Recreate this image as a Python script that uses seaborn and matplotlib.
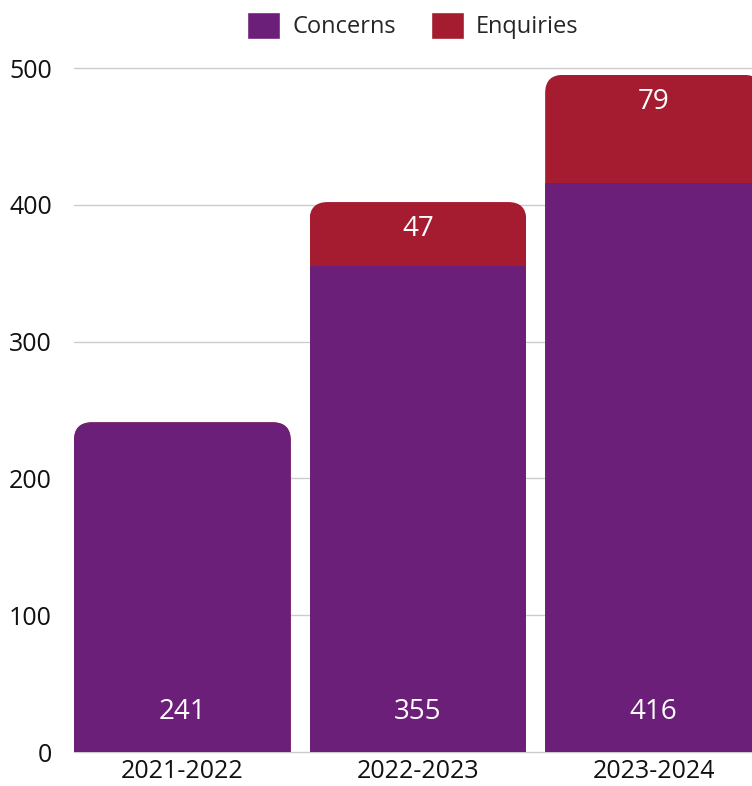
import matplotlib
matplotlib.use("Agg")
import matplotlib.pyplot as plt
import seaborn as sns
import pandas as pd
from matplotlib.patches import FancyBboxPatch, Patch

years = ["2021-2022", "2022-2023", "2023-2024"]
concerns = [241, 355, 416]
enquiries = [0, 47, 79]

purple = "#6c1f78"
red = "#a51b30"

df = pd.DataFrame({"year": years, "concerns": concerns, "enquiries": enquiries})
df["total"] = df["concerns"] + df["enquiries"]

sns.set_theme(style="white")
plt.rcParams["font.family"] = ["Open Sans", "DejaVu Sans"]

fig = plt.figure(figsize=(7.52, 7.86), dpi=100)
ax = fig.add_axes([74 / 752, 1 - 752 / 786, 1 - 74 / 752, (752 - 68) / 786])

width = 0.92
sns.barplot(data=df, x="year", y="total", color=red, width=width, ax=ax,
            saturation=1, linewidth=0, edgecolor="none", zorder=3)
sns.barplot(data=df, x="year", y="concerns", color=purple, width=width, ax=ax,
            saturation=1, linewidth=0, edgecolor="none", zorder=3)

ax.set_xlim(-0.46, 2.418)
ax.set_ylim(0, 500)
ax.set_yticks([0, 100, 200, 300, 400, 500])

# rounded top corners: clip each bar with a rounded box
r = 0.0764
aspect = 13.2 / 0.0764
n = len(years)
for i, p in enumerate(ax.patches):
    k = i % n
    top = df["total"][k]
    clip = FancyBboxPatch((k - width / 2, -60), width, top + 60,
                          boxstyle=f"round,pad=0,rounding_size={r}",
                          mutation_aspect=aspect, transform=ax.transData)
    p.set_clip_path(clip)

# value labels
for k in range(n):
    ax.annotate(str(concerns[k]), (k, 0), xytext=(0, 40), textcoords="offset pixels",
                ha="center", va="center", color="white", fontsize=20, zorder=5)
    if enquiries[k] > 0:
        ax.annotate(str(enquiries[k]), (k, df["total"][k]), xytext=(0, -27),
                    textcoords="offset pixels", ha="center", va="center",
                    color="white", fontsize=20, zorder=5)

ax.grid(axis="y", color="#cccccc", linewidth=1, zorder=0)
for gl in ax.get_ygridlines():
    gl.set_clip_on(False)
ax.set_axisbelow(True)
sns.despine(ax=ax, left=True, bottom=True, top=True, right=True)
ax.tick_params(axis="both", length=0, labelsize=18, colors="#111111")
ax.tick_params(axis="y", pad=16)
ax.tick_params(axis="x", pad=5)
ax.set_xlabel("")
ax.set_ylabel("")

handles = [Patch(facecolor=purple, label="Concerns"), Patch(facecolor=red, label="Enquiries")]
fig.legend(handles=handles, loc="upper center", bbox_to_anchor=(413 / 752, 1.012),
           ncol=2, frameon=False, fontsize=17, handlelength=1.4, handleheight=1.4,
           columnspacing=1.5, handletextpad=0.5)

fig.savefig("out.png", dpi=100)
